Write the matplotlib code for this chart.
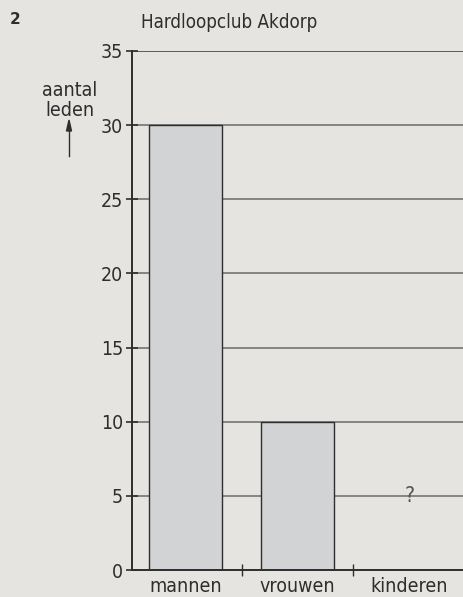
import matplotlib.pyplot as plt
from matplotlib import font_manager

categories = ["mannen", "vrouwen", "kinderen"]
values = [30, 10]           # kinderen unknown -> "?"
yticks = [0, 5, 10, 15, 20, 25, 30, 35]

bg = "#e5e4e0"
ink = "#2e2e2e"

# condensed face if there is one (the original uses a narrow sans)
cond = [f for f in font_manager.fontManager.ttflist
        if "ondensed" in f.fname or "Narrow" in f.fname]
fam = cond[0].name if cond else "DejaVu Sans"
plt.rcParams['font.family'] = [fam, 'DejaVu Sans']
plt.rcParams['font.stretch'] = cond[0].stretch if cond else "normal"

fig = plt.figure(figsize=(4.64, 5.97), dpi=100, facecolor=bg)
ax = fig.add_axes([132/464, 1 - 570/597, 1 - 132/464, (570 - 51)/597])
ax.set_facecolor(bg)

for y in yticks[1:-1]:
    ax.axhline(y, color="#6a6a6a", lw=1.1, zorder=1)
ax.axhline(35, color="#444444", lw=1.2, zorder=1)

ax.bar(range(len(values)), values, width=0.66, color="#d2d3d5",
       edgecolor=ink, linewidth=1.0, zorder=2)
ax.text(2, 5.0, "?", ha="center", va="center", fontsize=15, color="#555555", zorder=3)

ax.set_xlim(-0.478, 2.487)
ax.set_ylim(0, 35)
ax.set_yticks(yticks)
ax.set_yticklabels([str(v) for v in yticks], fontsize=14, color=ink)
ax.tick_params(axis="y", direction="inout", length=9, width=1.2, color=ink, pad=2)

ax.set_xticks([0.5, 1.5])
ax.set_xticklabels([])
ax.tick_params(axis="x", direction="inout", length=9, width=1.0, color=ink)
for i, c in enumerate(categories):
    ax.text(i, -0.45, c, ha="center", va="top", fontsize=14, color=ink,
            transform=ax.transData, clip_on=False)

for s in ["top", "right"]:
    ax.spines[s].set_visible(False)
ax.spines["left"].set_color(ink)
ax.spines["left"].set_linewidth(1.4)
ax.spines["bottom"].set_color(ink)
ax.spines["bottom"].set_linewidth(1.4)

fig.text(229/464, 1 - 22/597, "Hardloopclub Akdorp", ha="center", va="center",
         fontsize=13.5, color=ink)
fig.text(15/464, 1 - 20/597, "2", ha="center", va="center", fontsize=11,
         fontweight="bold", color=ink, family="DejaVu Sans", stretch="normal")
fig.text(70/464, 1 - 90/597, "aantal", ha="center", va="center", fontsize=14, color=ink)
fig.text(70/464, 1 - 111/597, "leden", ha="center", va="center", fontsize=14, color=ink)
fig.add_artist(plt.Line2D([69/464, 69/464], [1 - 156/597, 1 - 125/597],
                          color=ink, lw=1.0))
fig.add_artist(plt.Polygon([[66.5/464, 1 - 131/597], [71.5/464, 1 - 131/597],
                            [69/464, 1 - 120/597]], color=ink))

fig.savefig("out.png", dpi=100, facecolor=bg)
